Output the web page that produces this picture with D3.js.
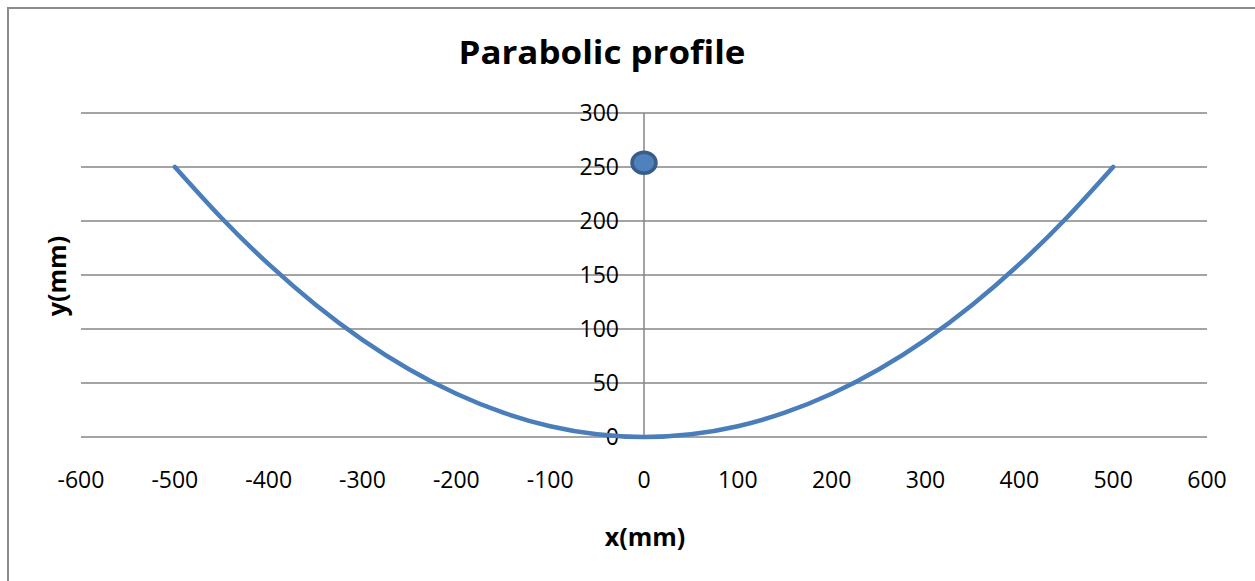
<!DOCTYPE html>
<html>
<head>
<meta charset="utf-8">
<script src="https://cdn.jsdelivr.net/npm/d3@7"></script>
<style>
  body { margin: 0; background: #fff; }
  text { font-family: "Open Sans", "Noto Sans", sans-serif; }
</style>
</head>
<body>
<script>
// profile readings (mm)
const profileX = [-500, -450, -400, -350, -300, -250, -200, -150, -100, -50, 0,
                  50, 100, 150, 200, 250, 300, 350, 400, 450, 500];
const profileY = [250, 202.5, 160, 122.5, 90, 62.5, 40, 22.5, 10, 2.5, 0,
                  2.5, 10, 22.5, 40, 62.5, 90, 122.5, 160, 202.5, 250];

// single marker point
const markerX = [0];
const markerY = [254];

const xTicks = [-600, -500, -400, -300, -200, -100, 0, 100, 200, 300, 400, 500, 600];
const yTicks = [0, 50, 100, 150, 200, 250, 300];

const [w, h] = [1255, 581];

const svg = d3.select('body')
    .append('svg')
    .attr('width', w)
    .attr('height', h);

// chart area border (only top and left visible)
svg.append('path')
    .attr('d', `M8,${h} L8,8 L${w},8`)
    .attr('fill', 'none')
    .attr('stroke', '#8c8c8c')
    .attr('stroke-width', 2);

const xScale = d3.scaleLinear().domain([-600, 600]).range([81, 1207]);
const yScale = d3.scaleLinear().domain([0, 300]).range([437, 113]);

// horizontal gridlines
svg.append('g')
    .selectAll('line')
    .data(yTicks)
    .join('line')
    .attr('x1', xScale(-600))
    .attr('x2', xScale(600))
    .attr('y1', d => yScale(d))
    .attr('y2', d => yScale(d))
    .attr('stroke', '#868686')
    .attr('stroke-width', 1.5);

// vertical axis at x = 0
svg.append('line')
    .attr('x1', xScale(0))
    .attr('x2', xScale(0))
    .attr('y1', yScale(300))
    .attr('y2', yScale(0))
    .attr('stroke', '#868686')
    .attr('stroke-width', 1.5);

// y tick labels
svg.append('g')
    .selectAll('text')
    .data(yTicks)
    .join('text')
    .attr('x', xScale(0) - 25)
    .attr('y', d => yScale(d))
    .attr('dy', '0.36em')
    .attr('text-anchor', 'end')
    .attr('font-size', '23px')
    .attr('fill', '#000')
    .text(d => d);

// x tick labels
svg.append('g')
    .selectAll('text')
    .data(xTicks)
    .join('text')
    .attr('x', d => xScale(d))
    .attr('y', 488)
    .attr('text-anchor', 'middle')
    .attr('font-size', '23px')
    .attr('fill', '#000')
    .text(d => d);

// curve
const pts = profileX.map((x, i) => [x, profileY[i]]);
const line = d3.line()
    .x(d => xScale(d[0]))
    .y(d => yScale(d[1]))
    .curve(d3.curveNatural);

svg.append('path')
    .datum(pts)
    .attr('d', line)
    .attr('fill', 'none')
    .attr('stroke', '#4a7ebb')
    .attr('stroke-width', 4.5)
    .attr('stroke-linecap', 'round');

// marker
svg.append('g')
    .selectAll('ellipse')
    .data(markerX.map((x, i) => [x, markerY[i]]))
    .join('ellipse')
    .attr('cx', d => xScale(d[0]))
    .attr('cy', d => yScale(d[1]))
    .attr('rx', 12)
    .attr('ry', 10.5)
    .attr('fill', '#4f81bd')
    .attr('stroke', '#385d8a')
    .attr('stroke-width', 3.5);

// title
svg.append('text')
    .attr('x', 602)
    .attr('y', 64)
    .attr('text-anchor', 'middle')
    .attr('font-size', '32px')
    .attr('font-weight', 'bold')
    .attr('textLength', 287)
    .attr('lengthAdjust', 'spacingAndGlyphs')
    .text('Parabolic profile');

// axis titles
svg.append('text')
    .attr('x', 645)
    .attr('y', 546)
    .attr('text-anchor', 'middle')
    .attr('font-size', '25px')
    .attr('font-weight', 'bold')
    .text('x(mm)');

svg.append('text')
    .attr('transform', 'translate(66, 276) rotate(-90)')
    .attr('text-anchor', 'middle')
    .attr('font-size', '25px')
    .attr('font-weight', 'bold')
    .text('y(mm)');
</script>
</body>
</html>
